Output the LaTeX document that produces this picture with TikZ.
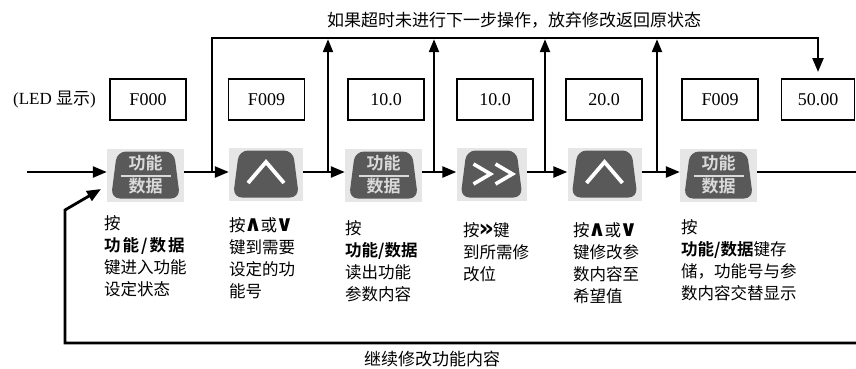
\documentclass[tikz,border=0pt]{standalone}
\usepackage{fontspec}
\setmainfont{Liberation Serif}
\newfontfamily\cjk{Noto Sans CJK SC}[BoldFont={Noto Sans CJK SC Bold}]
\newfontfamily\symf{DejaVu Sans}[BoldFont={DejaVu Sans Bold}]
\usetikzlibrary{arrows.meta}
\definecolor{keyc}{HTML}{595959}
\definecolor{keybgc}{HTML}{E6E6E6}
\definecolor{keytxt}{HTML}{DADADA}
\newcommand\sy[1]{\kern-1.5pt\smash{\symf\bfseries\fontsize{22}{22}\selectfont #1}\kern-1.5pt}
\newcommand\dblgt{\kern-1pt\smash{\symf\bfseries\fontsize{24}{22}\selectfont »}\kern-1pt}
\newcommand\keyshape{\fill[keyc, rounded corners=9pt]
  ([xshift=10pt,yshift=-3pt]path picture bounding box.north west) --
  ([xshift=-10pt,yshift=-3pt]path picture bounding box.north east) --
  ([xshift=-4pt,yshift=3pt]path picture bounding box.south east) --
  ([xshift=4pt,yshift=3pt]path picture bounding box.south west) -- cycle;}
\tikzset{
  flow/.style={line width=2.4pt, -{Triangle[length=14pt,width=11pt]}},
  plainline/.style={line width=2.4pt},
  led/.style={draw, line width=1.6pt, minimum width=76pt, minimum height=41pt,
    inner sep=0pt, font=\fontsize{18}{20}\selectfont},
  keybase/.style={rectangle, fill=keybgc, minimum width=77pt, minimum height=53pt, inner sep=0pt},
  fnkey/.style={keybase, text=keytxt, align=center,
    font=\cjk\bfseries\fontsize{17}{23}\selectfont,
    path picture={\keyshape
      \draw[keytxt, line width=1.4pt] ([xshift=-25pt,yshift=-1pt]path picture bounding box.center)
        -- ([xshift=25pt,yshift=-1pt]path picture bounding box.center);}},
  upkey/.style={keybase,
    path picture={\keyshape
      \draw[white, line width=3.8pt] ([xshift=-18pt,yshift=-9pt]path picture bounding box.center)
        -- ([yshift=12pt]path picture bounding box.center)
        -- ([xshift=18pt,yshift=-9pt]path picture bounding box.center);}},
  rkey/.style={keybase,
    path picture={\keyshape
      \draw[white, line width=3.6pt] ([xshift=-18pt,yshift=10pt]path picture bounding box.center)
        -- ([xshift=-1pt]path picture bounding box.center)
        -- ([xshift=-18pt,yshift=-10pt]path picture bounding box.center);
      \draw[white, line width=3.6pt] ([xshift=4pt,yshift=10pt]path picture bounding box.center)
        -- ([xshift=21pt]path picture bounding box.center)
        -- ([xshift=4pt,yshift=-10pt]path picture bounding box.center);}},
  desc/.style={anchor=north west, inner sep=0pt, align=left,
    font=\cjk\fontsize{16.5}{22}\selectfont},
  captext/.style={inner sep=0pt, font=\cjk\fontsize{17}{20}\selectfont}
}
\begin{document}
\begin{tikzpicture}[x=1pt,y=-1pt]
\useasboundingbox (0,0) rectangle (856,368);
% LED label
\node[inner sep=0pt, font=\fontsize{17}{20}\selectfont] (ledlab) at (54.5,100) {(LED {\cjk 显示})};
% LED boxes
\node[led] (d1) at (148,99.5) {F000};
\node[led] (d2) at (266.5,99.5) {F009};
\node[led] (d3) at (386,99.5) {10.0};
\node[led] (d4) at (495,99.5) {10.0};
\node[led] (d5) at (604,99.5) {20.0};
\node[led] (d6) at (720,99.5) {F009};
\node[led, minimum width=73pt] (d7) at (818,99.5) {50.00};
% keys
\node[fnkey] (k1) at (145.5,175) {功能\\数据};
\node[upkey, minimum width=74pt] (k2) at (266,174) {};
\node[fnkey] (k3) at (383.5,175) {功能\\数据};
\node[rkey, minimum width=70pt] (k4) at (491.5,174) {};
\node[upkey, minimum width=74pt] (k5) at (604.5,174) {};
\node[fnkey] (k6) at (718.5,175) {功能\\数据};
% coordinates
\coordinate (m) at (0,172);
\coordinate (start) at (27,172);
\coordinate (rend) at (856,172);
\coordinate (t0) at (212,38);
\coordinate (tend) at (818,38);
\coordinate (tdown) at (818,72);
\coordinate (b0) at (856,343);
\coordinate (b1) at (65,343);
\coordinate (b2) at (65,210);
\coordinate (b3) at (101,189);
\coordinate (u1) at (328,172);
\coordinate (u2) at (434,172);
\coordinate (u3) at (545,172);
\coordinate (u4) at (657,172);
\coordinate (s0) at (212,172);
% main line
\draw[flow] (start) -- (k1.west |- m);
\draw[flow] (k1.east |- m) -- (k2.west |- m);
\draw[flow] (k2.east |- m) -- (k3.west |- m);
\draw[flow] (k3.east |- m) -- (k4.west |- m);
\draw[flow] (k4.east |- m) -- (k5.west |- m);
\draw[flow] (k5.east |- m) -- (k6.west |- m);
\draw[plainline] (k6.east |- m) -- (rend);
% top loop
\draw[line width=2.4pt, line join=miter, -{Triangle[length=14pt,width=11pt]}]
  (s0) -- (t0) -- (tend) -- (tdown);
\foreach \u in {u1,u2,u3,u4}{
  \draw[line width=2.2pt, -{Triangle[length=13pt,width=10pt]}] (\u) -- ([yshift=-1.2pt]\u |- t0);
}
% bottom loop
\draw[line width=2.8pt, line join=miter, -{Triangle[length=14pt,width=11pt]}]
  (b0) -- (b1) -- (b2) -- (b3);
% captions
\node[captext] (toptext) at (514,20) {如果超时未进行下一步操作，放弃修改返回原状态};
\node[captext] (bottext) at (432,359) {继续修改功能内容};
% descriptions
\node[desc] (c1) at (104,215) {按\\{\bfseries 功\kern2pt 能\kern2pt/\kern2pt 数\kern2pt 据}\\键进入功能\\设定状态};
\node[desc] (c2) at (229,217) {按\sy{∧}或\sy{∨}\\键到需要\\设定的功\\能号};
\node[desc] (c3) at (345,220) {按\\{\bfseries 功能/数据}\\读出功能\\参数内容};
\node[desc] (c4) at (463,222) {按\dblgt 键\\到所需修\\改位};
\node[desc] (c5) at (573,222) {按\sy{∧}或\sy{∨}\\键修改参\\数内容至\\希望值};
\node[desc] (c6) at (681,219) {按\\{\bfseries 功能/数据}键存\\储，功能号与参\\数内容交替显示};
\end{tikzpicture}
\end{document}
